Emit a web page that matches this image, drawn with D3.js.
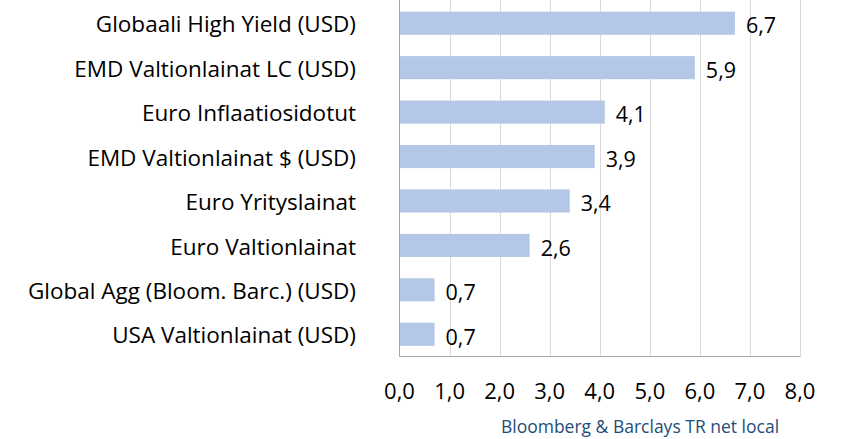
<!DOCTYPE html>
<html><head><meta charset="utf-8">
<script src="https://cdn.jsdelivr.net/npm/d3@7"></script>
<style>body{margin:0;background:#fff;} text{font-family:"Open Sans","Noto Sans",sans-serif;}</style>
</head><body><svg id="c" width="843" height="439"></svg>
<script>
const categories = ["Globaali High Yield (USD)","EMD Valtionlainat LC (USD)","Euro Inflaatiosidotut","EMD Valtionlainat $ (USD)","Euro Yrityslainat","Euro Valtionlainat","Global Agg (Bloom. Barc.) (USD)","USA Valtionlainat (USD)"];
const values = [6.7,5.9,4.1,3.9,3.4,2.6,0.7,0.7];
const ticks = [0,1,2,3,4,5,6,7,8];
const source = "Bloomberg & Barclays TR net local";

const svg = d3.select("#c");
const x = d3.scaleLinear().domain([0,8]).range([399.5,800]);
const y = d3.scaleBand().domain(categories).range([1,356.5]).paddingInner(0.48).paddingOuter(0.24);
const fmt = v => d3.format(".1f")(v).replace(".", ",");

svg.append("g").selectAll("line").data(ticks.slice(1)).join("line")
  .attr("x1",d=>Math.round(x(d))+0.5).attr("x2",d=>Math.round(x(d))+0.5)
  .attr("y1",0).attr("y2",356).attr("stroke","#d9d9d9").attr("stroke-width",1);

svg.append("g").selectAll("rect").data(values).join("rect")
  .attr("x",x(0)).attr("y",(d,i)=>y(categories[i]))
  .attr("width",d=>x(d)-x(0)).attr("height",y.bandwidth())
  .attr("fill","#b4c7e7");

svg.append("line").attr("x1",399.5).attr("x2",399.5).attr("y1",0).attr("y2",356.5).attr("stroke","#a6a6a6");
svg.append("line").attr("x1",399.5).attr("x2",800.5).attr("y1",356.5).attr("y2",356.5).attr("stroke","#a6a6a6");

svg.append("g").selectAll("text").data(values).join("text")
  .attr("x",d=>x(d)+11).attr("y",(d,i)=>y(categories[i])+y.bandwidth()/2+2.5)
  .attr("dy","0.36em").attr("font-size",21.5).attr("fill","#000").text(fmt);

svg.append("g").selectAll("text").data(categories).join("text")
  .attr("x",356).attr("y",d=>y(d)+y.bandwidth()/2+1).attr("dy","0.36em")
  .attr("text-anchor","end").attr("font-size",22.5).attr("fill","#000").text(d=>d);

svg.append("g").selectAll("text").data(ticks).join("text")
  .attr("x",d=>x(d)).attr("y",391).attr("dy","0.36em")
  .attr("text-anchor","middle").attr("font-size",22).attr("fill","#000").text(fmt);

svg.append("text").attr("x",640).attr("y",427).attr("dy","0.36em").attr("text-anchor","middle")
  .attr("font-size",17.5).attr("fill","#1f4e79").text(source);
</script></body></html>
